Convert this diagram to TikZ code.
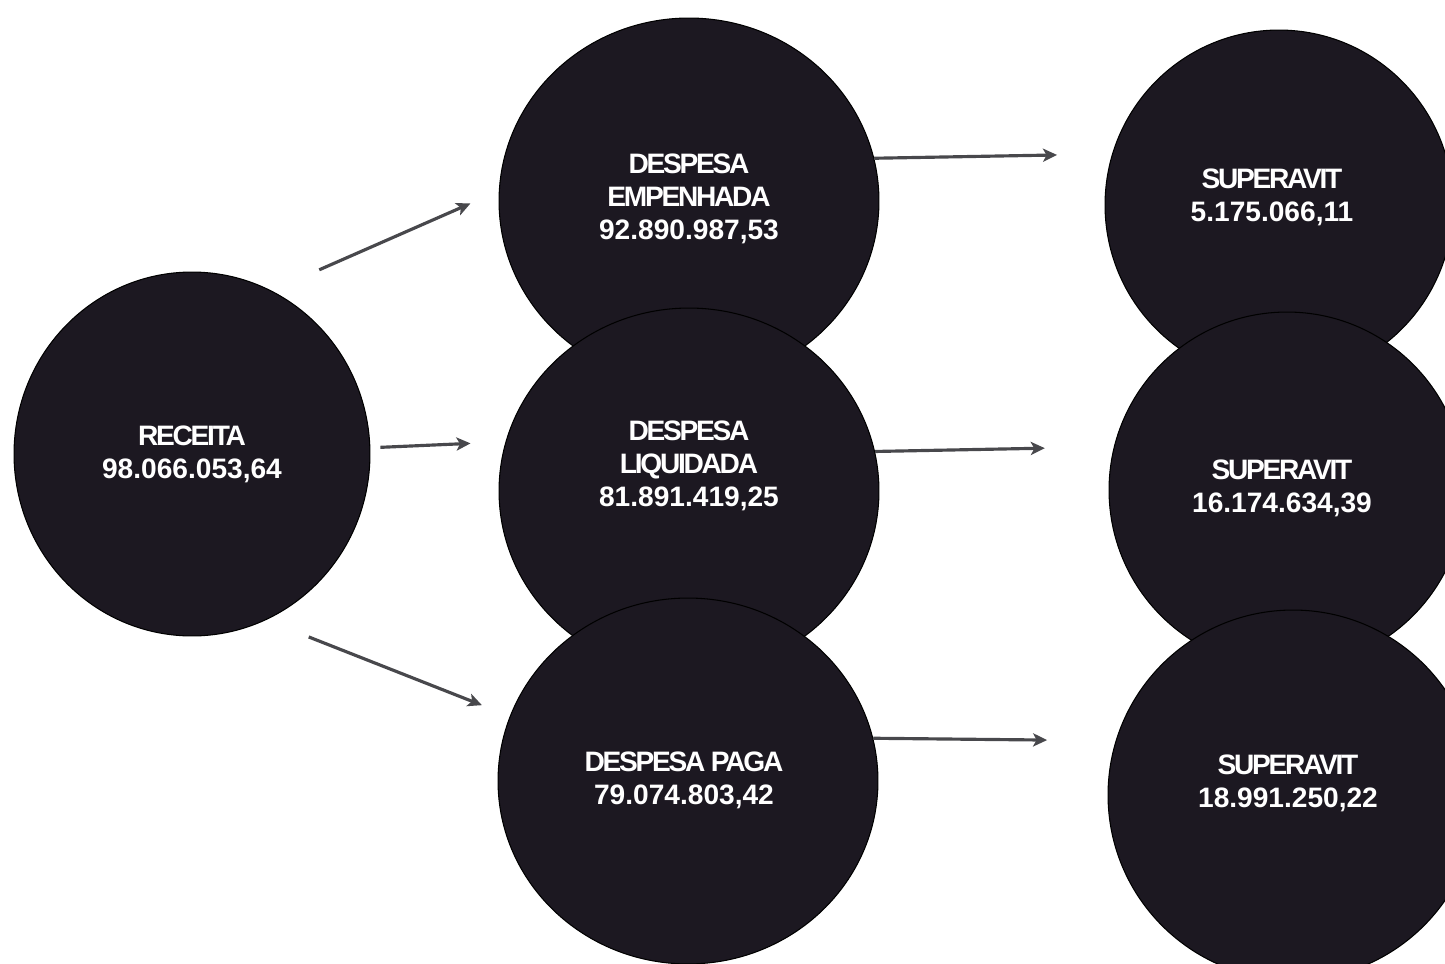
\documentclass[tikz,border=0pt]{standalone}
\usepackage{fontspec}
\usepackage{xcolor}
\usepackage{tikz}
\usetikzlibrary{shapes.geometric, arrows.meta, positioning, calc}
\setmainfont{Liberation Sans}
\newfontfamily\tightfont[LetterSpace=-8]{Liberation Sans}
\newcommand{\tword}[1]{{\tightfont\bfseries #1}}
\definecolor{discfill}{RGB}{28,24,33}
\definecolor{arrowgray}{RGB}{72,72,76}
\tikzstyle{arrow} = [line width=1.8pt, draw=arrowgray, -{Stealth[length=8pt, width=7.5pt, inset=2pt]}]
\tikzstyle{disc} = [ellipse, inner sep=0pt, minimum width=7.6cm, minimum height=7.32cm, fill=discfill, draw=black, line width=0.6pt]
\tikzstyle{sdisc} = [disc, minimum width=7.0cm, minimum height=7.1cm]
\tikzstyle{txt} = [text=white, align=center, font=\bfseries\fontsize{16}{18.7}\selectfont]

\begin{document}
\begin{tikzpicture}[x=0.02cm, y=-0.02cm]
    \useasboundingbox (0,0) rectangle (1445,964);
    \clip (0,0) rectangle (1445,964);

    % Discs
    \node[disc, minimum width=7.12cm, minimum height=7.28cm] (rec) at (192,454) {};
    \node[disc] (emp) at (689,201) {};
    \node[disc] (liq) at (689,491) {};
    \node[disc] (paga) at (688,781) {};
    \node[sdisc, minimum width=6.96cm, minimum height=7.0cm] (sup1) at (1279,205) {};
    \node[sdisc, minimum width=7.12cm, minimum height=7.12cm] (sup2) at (1287,490) {};
    \node[sdisc, minimum width=7.4cm, minimum height=7.4cm] (sup3) at (1293,795) {};

    % Labels
    \node[txt] (recT) at (rec) {\tword{RECEITA}\\98.066.053,64};
    \node[txt] (empT) at ([shift={(0,-2)}]emp) {\tword{DESPESA}\\\tword{EMPENHADA}\\92.890.987,53};
    \node[txt] (liqT) at ([shift={(0,-25)}]liq) {\tword{DESPESA}\\\tword{LIQUIDADA}\\81.891.419,25};
    \node[txt] (pagaT) at ([shift={(-4,-1)}]paga) {\tword{DESPESA PAGA}\\79.074.803,42};
    \node[txt] (sup1T) at ([shift={(-7,-8)}]sup1) {\tword{SUPERAVIT}\\5.175.066,11};
    \node[txt] (sup2T) at ([shift={(-5,-2)}]sup2) {\tword{SUPERAVIT}\\16.174.634,39};
    \node[txt] (sup3T) at ([shift={(-5,-12)}]sup3) {\tword{SUPERAVIT}\\18.991.250,22};

    % Flows
    \draw[arrow, shorten <=1.04cm, shorten >=0.62cm] (rec.64) -- (emp.177);
    \draw[arrow, shorten <=0.2cm, shorten >=0.7cm] (rec.2) -- (liq.165);
    \draw[arrow, shorten <=0.92cm, shorten >=0.6cm] (rec.294) -- (paga.160);
    \draw[arrow, shorten >=1.1cm] (emp.13) -- (sup1.163);
    \draw[arrow, shorten >=1.38cm] (liq.12) -- (sup2.166);
    \draw[arrow, shorten >=1.37cm] (paga.13) -- (sup3.163);

\end{tikzpicture}
\end{document}
